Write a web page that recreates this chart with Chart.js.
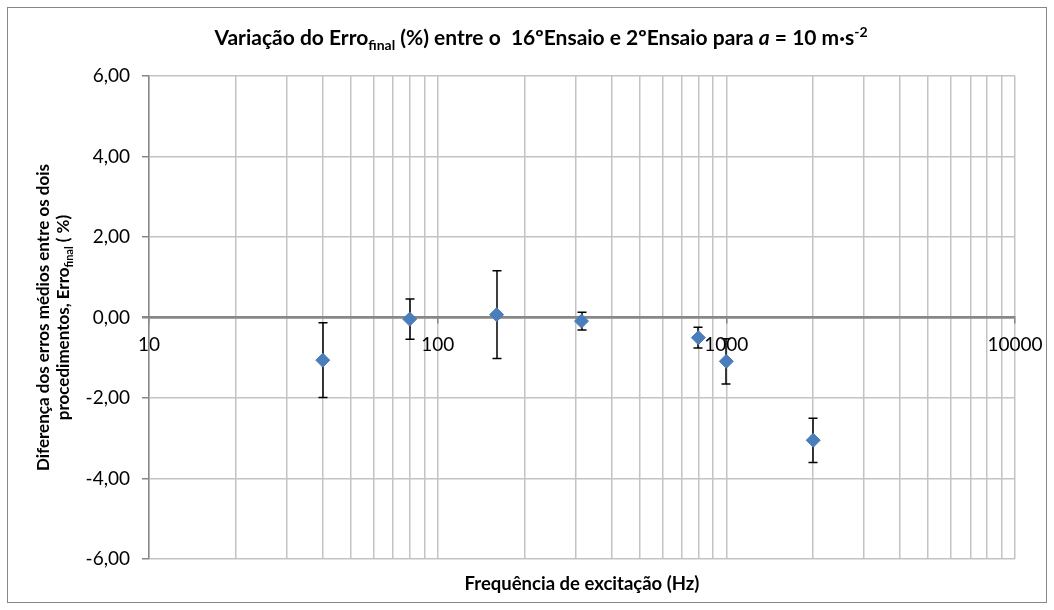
<!DOCTYPE html>
<html>
<head>
<meta charset="utf-8">
<script src="https://cdn.jsdelivr.net/npm/chart.js@4.4.1/dist/chart.umd.min.js"></script>
<style>
  html, body { margin: 0; padding: 0; background: #fff; }
  #wrap { width: 1054px; height: 610px; position: relative; }
</style>
</head>
<body>
<div id="wrap"><canvas id="canvas"></canvas></div>
<script>
// excitation frequency (Hz), mean difference of errors (%) and its uncertainty
var freq = [40, 80, 160, 315, 800, 1000, 2000];
var diffMean = [-1.06, -0.04, 0.07, -0.09, -0.50, -1.09, -3.05];
var diffErr = [0.93, 0.50, 1.09, 0.22, 0.26, 0.56, 0.55];

var xDecades = [10, 100, 1000, 10000];
var xTickLabels = ['10', '100', '1000', '10000'];
var yMin = -6, yMax = 6, yStep = 2;

var FAMILY = 'Lato, "Liberation Sans", sans-serif';
var GRID = '#c3c3c3';
var AXIS = '#878787';
var MARKER = '#4a7ebb';

// log grid: 1..9 x each decade, up to the last decade
var xGrid = [];
for (var d = 0; d < xDecades.length - 1; d++) {
    for (var k = 1; k < 10; k++) xGrid.push(xDecades[d] * k);
}
xGrid.push(xDecades[xDecades.length - 1]);

function runFont(r) {
    return (r.italic ? 'italic ' : '') + 'bold ' + r.size + 'px ' + FAMILY;
}

// draws a line of mixed runs (subscripts, superscripts) centred on cx
function drawRuns(ctx, runs, cx, baseline) {
    var total = 0;
    runs.forEach(function (r) {
        ctx.font = runFont(r);
        r.w = ctx.measureText(r.text).width;
        total += r.w;
    });
    var x = cx - total / 2;
    runs.forEach(function (r) {
        ctx.font = runFont(r);
        ctx.fillText(r.text, x, baseline + (r.dy || 0));
        x += r.w;
    });
}

var titleRuns = [
    {text: 'Variação do Erro', size: 21},
    {text: 'final', size: 14, dy: 5},
    {text: ' (%) entre o  16ºEnsaio e 2ºEnsaio para ', size: 21},
    {text: 'a', size: 21, italic: true},
    {text: ' = 10 m·s', size: 21},
    {text: '-2', size: 14, dy: -8}
];
var yTitle1 = [
    {text: 'Diferença dos erros médios entre os dois', size: 17}
];
var yTitle2 = [
    {text: 'procedimentos, Erro', size: 17},
    {text: 'final', size: 11, dy: 4},
    {text: ' ( %)', size: 17}
];
var xTitle = [
    {text: 'Frequência de excitação (Hz)', size: 18.5}
];

var frame = {
    id: 'frame',
    beforeDraw: function (chart) {
        var ctx = chart.ctx;
        ctx.save();
        ctx.fillStyle = '#fff';
        ctx.fillRect(0, 0, chart.width, chart.height);
        ctx.strokeStyle = AXIS;
        ctx.lineWidth = 1;
        ctx.strokeRect(7.5, 7.5, chart.width - 15, chart.height - 15);
        ctx.restore();
    },
    afterDraw: function (chart) {
        var ctx = chart.ctx, a = chart.chartArea;
        var midX = (a.left + a.right) / 2, midY = (a.top + a.bottom) / 2;
        ctx.save();
        ctx.fillStyle = '#000';
        ctx.textBaseline = 'alphabetic';
        drawRuns(ctx, titleRuns, 541, 45);
        drawRuns(ctx, xTitle, midX, 590);
        ctx.translate(0, midY);
        ctx.rotate(-Math.PI / 2);
        drawRuns(ctx, yTitle1, 0, 49);
        drawRuns(ctx, yTitle2, 0, 69);
        ctx.restore();
    }
};

var errorBars = {
    id: 'errorBars',
    beforeDatasetsDraw: function (chart) {
        var ctx = chart.ctx, xs = chart.scales.x, ys = chart.scales.y;
        ctx.save();
        ctx.strokeStyle = '#000';
        ctx.lineWidth = 1.5;
        for (var i = 0; i < freq.length; i++) {
            var px = Math.round(xs.getPixelForValue(freq[i]));
            var top = ys.getPixelForValue(diffMean[i] + diffErr[i]);
            var bot = ys.getPixelForValue(diffMean[i] - diffErr[i]);
            ctx.beginPath();
            ctx.moveTo(px, top); ctx.lineTo(px, bot);
            ctx.moveTo(px - 4.5, top); ctx.lineTo(px + 4.5, top);
            ctx.moveTo(px - 4.5, bot); ctx.lineTo(px + 4.5, bot);
            ctx.stroke();
        }
        ctx.restore();
    }
};

var points = freq.map(function (f, i) { return {x: f, y: diffMean[i]}; });

var ctx = document.getElementById('canvas').getContext('2d');
new Chart(ctx, {
    type: 'scatter',
    data: {
        datasets: [{
            label: 'Diferença',
            data: points,
            pointStyle: 'rectRot',
            pointRadius: 7,
            pointHoverRadius: 7,
            backgroundColor: MARKER,
            borderColor: MARKER,
            borderWidth: 1
        }]
    },
    options: {
        responsive: true,
        maintainAspectRatio: false,
        animation: false,
        layout: {padding: {top: 76, right: 39, bottom: 51, left: 0}},
        plugins: {
            legend: {display: false},
            tooltip: {enabled: false},
            title: {display: false}
        },
        scales: {
            x: {
                type: 'logarithmic',
                min: xDecades[0],
                max: xDecades[xDecades.length - 1],
                position: {y: 0},
                afterBuildTicks: function (s) {
                    s.ticks = xGrid.map(function (v) { return {value: v}; });
                },
                ticks: {
                    autoSkip: false,
                    maxRotation: 0,
                    padding: 11,
                    color: '#000',
                    font: {family: FAMILY, size: 19},
                    callback: function (v) {
                        var k = xDecades.indexOf(v);
                        return k >= 0 ? xTickLabels[k] : '';
                    }
                },
                grid: {
                    color: GRID,
                    lineWidth: 1.5,
                    tickLength: 5,
                    tickColor: function (c) {
                        return c.tick && xDecades.indexOf(c.tick.value) >= 0 ? AXIS : 'rgba(0,0,0,0)';
                    }
                },
                border: {color: AXIS, width: 2.5}
            },
            y: {
                min: yMin,
                max: yMax,
                afterFit: function (s) { s.width = 149; },
                ticks: {
                    stepSize: yStep,
                    padding: 12,
                    color: '#000',
                    font: {family: FAMILY, size: 19},
                    callback: function (v) { return v.toFixed(2).replace('.', ','); }
                },
                grid: {
                    color: function (c) { return c.tick && c.tick.value === 0 ? AXIS : GRID; },
                    lineWidth: function (c) { return c.tick && c.tick.value === 0 ? 2.5 : 1.5; },
                    tickLength: 7,
                    tickColor: AXIS
                },
                border: {color: AXIS, width: 1.5}
            }
        }
    },
    plugins: [frame, errorBars]
});
</script>
</body>
</html>
